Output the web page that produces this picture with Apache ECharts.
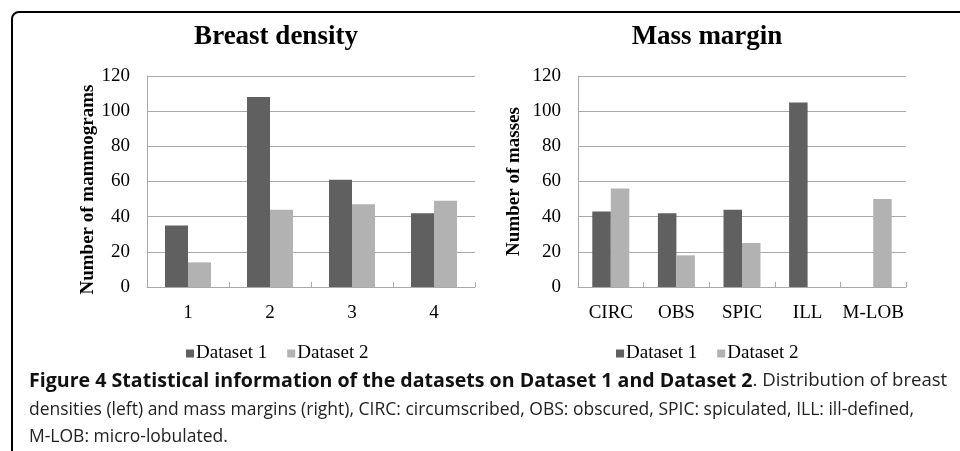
<!doctype html>
<html>
<head>
<meta charset="utf-8">
<title>Figure 4 - dataset statistics</title>
<style>
  html, body { margin: 0; padding: 0; background: #fff; }
  #main { width: 960px; height: 451px; }
</style>
</head>
<body>
<div id="main"></div>
<script src="https://cdn.jsdelivr.net/npm/echarts@6/dist/echarts.min.js"></script>
<script>
var chart = echarts.init(document.getElementById('main'));

// left panel: breast density
var densityCats = ['1', '2', '3', '4'];
var densitySet1 = [35, 108, 61, 42];
var densitySet2 = [14, 44, 47, 49];

// right panel: mass margin
var marginCats = ['CIRC', 'OBS', 'SPIC', 'ILL', 'M-LOB'];
var marginSet1 = [43, 42, 44, 105, 0];
var marginSet2 = [56, 18, 25, 0, 50];

var seriesNames = ['Dataset 1', 'Dataset 2'];
var captionBold = 'Figure 4 Statistical information of the datasets on Dataset 1 and Dataset 2';
var captionRest = '. Distribution of breast';
var captionLine2 = 'densities (left) and mass margins (right), CIRC: circumscribed, OBS: obscured, SPIC: spiculated, ILL: ill-defined,';
var captionLine3 = 'M-LOB: micro-lobulated.';

var DARK = '#606060';
var LIGHT = '#b2b2b2';
var GRIDC = '#a9a9a9';
var SERIF = '"Liberation Serif", "Times New Roman", serif';
var SANS = '"Open Sans", "Noto Sans", sans-serif';

function yAx(idx, name, gap, pad) {
    return {
        gridIndex: idx,
        type: 'value',
        min: 0, max: 120, interval: 20,
        name: name,
        nameLocation: 'middle',
        nameGap: gap,
        nameTextStyle: { fontFamily: SERIF, fontWeight: 'bold', fontSize: 19, color: '#000', padding: pad },
        axisLine: { show: true, lineStyle: { color: GRIDC, width: 1 } },
        axisTick: { show: false },
        axisLabel: { margin: 17, fontFamily: SERIF, fontSize: 19, color: '#000' },
        splitLine: { show: true, lineStyle: { color: GRIDC, width: 1 } }
    };
}

function xAx(idx, cats) {
    return {
        gridIndex: idx,
        type: 'category',
        data: cats,
        axisLine: { show: true, lineStyle: { color: GRIDC, width: 1 } },
        axisTick: { show: true, inside: true, length: 5, lineStyle: { color: GRIDC } },
        axisLabel: { interval: 0, margin: 17, fontFamily: SERIF, fontSize: 19, color: '#000' },
        splitLine: { show: false }
    };
}

function barSeries(name, ai, data, color, width) {
    return {
        name: name,
        type: 'bar',
        xAxisIndex: ai,
        yAxisIndex: ai,
        data: data,
        barWidth: width,
        barGap: '0%',
        itemStyle: { color: color },
        emphasis: { disabled: true },
        animation: false
    };
}

function legendAt(left) {
    return {
        data: seriesNames,
        left: left,
        top: 339,
        icon: 'rect',
        itemWidth: 8,
        itemHeight: 8,
        itemGap: 20,
        textStyle: { fontFamily: SERIF, fontSize: 19, color: '#000', padding: [0, 0, 0, -3] }
    };
}

chart.setOption({
    backgroundColor: '#fff',
    animation: false,
    title: [
        { text: 'Breast density', left: 271, top: 19, textAlign: 'center',
          textStyle: { fontFamily: SERIF, fontWeight: 'bold', fontSize: 27, color: '#000' } },
        { text: 'Mass margin', left: 702, top: 19, textAlign: 'center',
          textStyle: { fontFamily: SERIF, fontWeight: 'bold', fontSize: 27, color: '#000' } }
    ],
    legend: [legendAt(181), legendAt(611)],
    grid: [
        { left: 147, right: 485, top: 76, bottom: 164 },
        { left: 578, right: 54, top: 76, bottom: 164 }
    ],
    xAxis: [xAx(0, densityCats), xAx(1, marginCats)],
    yAxis: [
        yAx(0, 'Number of mammograms', 48, [0, 16, 0, 0]),
        yAx(1, 'Number of masses', 54, 0)
    ],
    series: [
        barSeries(seriesNames[0], 0, densitySet1, DARK, 23),
        barSeries(seriesNames[1], 0, densitySet2, LIGHT, 23),
        barSeries(seriesNames[0], 1, marginSet1, DARK, 18.5),
        barSeries(seriesNames[1], 1, marginSet2, LIGHT, 18.5)
    ],
    graphic: [
        { type: 'rect', silent: true,
          shape: { x: 12, y: 12, width: 1000, height: 600, r: 7 },
          style: { fill: 'none', stroke: '#000', lineWidth: 2 } },
        { type: 'text', x: 29, y: 381, silent: true,
          style: {
              text: '{b|' + captionBold + '}{n|' + captionRest + '}',
              verticalAlign: 'middle',
              rich: {
                  b: { fontFamily: SANS, fontWeight: 'bold', fontSize: 19.6, fill: '#111' },
                  n: { fontFamily: SANS, fontSize: 18.6, fill: '#222' }
              }
          } },
        { type: 'text', x: 29, y: 410, silent: true,
          style: { text: captionLine2, verticalAlign: 'middle', font: '17.5px ' + SANS, fill: '#222' } },
        { type: 'text', x: 29, y: 437, silent: true,
          style: { text: captionLine3, verticalAlign: 'middle', font: '17.5px ' + SANS, fill: '#222' } }
    ]
});

window.addEventListener('resize', function () {
    chart.resize();
});
</script>
</body>
</html>
